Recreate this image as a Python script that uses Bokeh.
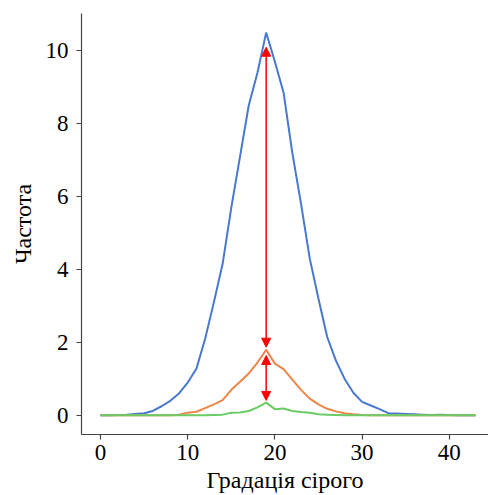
from bokeh.plotting import figure
from bokeh.models import Range1d, Arrow, NormalHead, FixedTicker
from bokeh.embed import file_html
from bokeh.resources import INLINE

x_vals = list(range(0, 44))
blue_vals = [0, 0, 0.01, 0.02, 0.04, 0.06, 0.12, 0.25, 0.4, 0.6, 0.9, 1.28, 2.1, 3.1, 4.15,
             5.7, 7.1, 8.5, 9.4, 10.5, 9.7, 8.85, 7.2, 5.8, 4.3, 3.2, 2.15, 1.5, 1.0, 0.62,
             0.37, 0.27, 0.17, 0.06, 0.05, 0.04, 0.03, 0.02, 0.01, 0.02, 0.01, 0, 0, 0]
orange_vals = [0, 0, 0, 0, 0, 0, 0, 0, 0, 0.02, 0.07, 0.1, 0.2, 0.3, 0.42,
               0.7, 0.92, 1.15, 1.45, 1.8, 1.42, 1.27, 0.98, 0.7, 0.46, 0.3, 0.18, 0.11, 0.06, 0.03,
               0.01, 0, 0, 0, 0, 0, 0, 0, 0, 0, 0, 0, 0, 0]
green_vals = [0, 0, 0, 0, 0, 0, 0, 0, 0, 0, 0, 0, 0, 0.01, 0.02,
              0.07, 0.08, 0.12, 0.22, 0.35, 0.17, 0.19, 0.12, 0.09, 0.07, 0.03, 0.02, 0.01, 0, 0,
              0, 0, 0, 0, 0, 0, 0, 0, 0, 0, 0, 0, 0, 0]

arrow_x = [19, 19]
arrow_y_start = [1.87, 0.41]
arrow_y_end = [10.1, 1.64]

x_ticks = [0, 10, 20, 30, 40]
y_ticks = [0, 2, 4, 6, 8, 10]
x_label = "Градація сірого"
y_label = "Частота"

FONT = "Liberation Serif"

p = figure(frame_width=407, frame_height=421, output_backend="svg", toolbar_location=None,
           x_range=Range1d(-2.18, 44.5), y_range=Range1d(-0.525, 11.025),
           min_border_left=81, min_border_right=0, min_border_top=13, min_border_bottom=60)

p.line(x_vals, blue_vals, line_color="#4878D0", line_width=2)
p.line(x_vals, orange_vals, line_color="#EE854A", line_width=2)
p.line(x_vals, green_vals, line_color="#6ACC64", line_width=2)

for xa, ys, ye in zip(arrow_x, arrow_y_start, arrow_y_end):
    p.add_layout(Arrow(start=NormalHead(size=9, fill_color="red", line_color="red"),
                       end=NormalHead(size=9, fill_color="red", line_color="red"),
                       x_start=xa, y_start=ys, x_end=xa, y_end=ye,
                       line_color="red", line_width=1.5))

p.grid.visible = False
p.outline_line_color = None
p.background_fill_color = "white"
p.border_fill_color = "white"

p.xaxis.ticker = FixedTicker(ticks=x_ticks)
p.yaxis.ticker = FixedTicker(ticks=y_ticks)
p.xaxis.axis_label = x_label
p.yaxis.axis_label = y_label
for ax in (p.xaxis, p.yaxis):
    ax.axis_line_color = "#444444"
    ax.axis_line_width = 1.2
    ax.major_tick_line_color = "#444444"
    ax.major_tick_line_width = 1.2
    ax.major_tick_out = 5
    ax.major_tick_in = 0
    ax.minor_tick_line_color = None
    ax.major_label_text_font = FONT
    ax.major_label_text_font_size = "23px"
    ax.major_label_text_color = "black"
    ax.axis_label_text_font = FONT
    ax.axis_label_text_font_size = "24px"
    ax.axis_label_text_font_style = "normal"
    ax.axis_label_text_color = "black"
p.xaxis.major_label_standoff = 5
p.yaxis.major_label_standoff = 8
p.xaxis.axis_label_standoff = 4
p.yaxis.axis_label_standoff = 7

open("out.html", "w").write(file_html(p, INLINE))
